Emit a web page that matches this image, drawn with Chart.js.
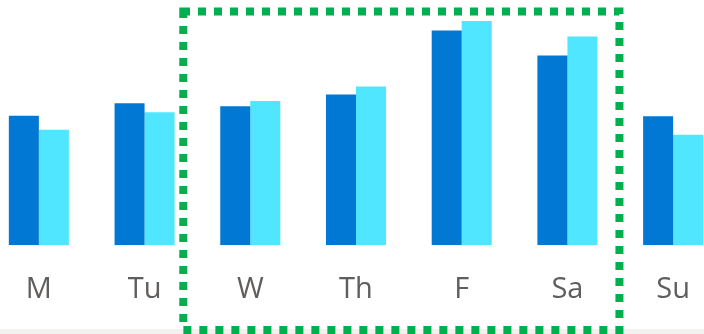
<!DOCTYPE html>
<html>
<head>
<meta charset="utf-8">
<script src="https://cdn.jsdelivr.net/npm/chart.js@4.4.0/dist/chart.umd.min.js"></script>
<style>
    html, body { margin: 0; padding: 0; background: #ffffff; overflow: hidden; }
    #wrap { position: relative; width: 704px; height: 334px; overflow: hidden; }
    #strip { position: absolute; left: 0; top: 329px; width: 704px; height: 5px; background: #f3f2f1; }
    #box { position: absolute; left: -14px; top: 0; width: 740px; height: 334px; }
</style>
</head>
<body>
<div id="wrap">
    <div id="strip"></div>
    <div id="box"><canvas id="weekChart"></canvas></div>
</div>
<script>
const days = ['M', 'Tu', 'W', 'Th', 'F', 'Sa', 'Su'];
const seriesA = [129.5, 142, 139, 151, 215, 190, 129];
const seriesB = [115.5, 133, 144.5, 159, 224.5, 209, 110.5];

const colors = {
    dark: '#0078d4',
    light: '#50e6ff',
    label: '#605e5c',
    highlight: '#00b050',
};

// dashed frame around the middle of the week (W .. Sa)
const highlightFrame = {
    id: 'highlightFrame',
    afterDraw(chart) {
        const x = chart.scales.x;
        const c = chart.ctx;
        const left = x.getPixelForValue(2) - 67;
        const right = x.getPixelForValue(5) + 52;
        const top = 11.5;
        const bottom = 330;
        c.save();
        c.strokeStyle = colors.highlight;
        c.lineWidth = 8;
        c.setLineDash([8, 8]);
        c.lineDashOffset = 1.3;
        c.beginPath();
        c.moveTo(left, top);
        c.lineTo(right, top);
        c.lineTo(right, bottom);
        c.lineTo(left, bottom);
        c.closePath();
        c.stroke();
        c.restore();
    }
};

new Chart(document.getElementById('weekChart'), {
    type: 'bar',
    data: {
        labels: days,
        datasets: [{
            data: seriesA,
            backgroundColor: colors.dark,
            borderWidth: 0,
        }, {
            data: seriesB,
            backgroundColor: colors.light,
            borderWidth: 0,
        }]
    },
    options: {
        responsive: true,
        maintainAspectRatio: false,
        animation: false,
        categoryPercentage: 0.568,
        barPercentage: 1,
        layout: { padding: { top: 0, left: 0, right: 0, bottom: 0 } },
        plugins: {
            legend: { display: false },
            tooltip: { enabled: false }
        },
        scales: {
            x: {
                grid: { display: false, drawTicks: false },
                border: { display: false },
                ticks: {
                    color: colors.label,
                    padding: 27,
                    font: { family: "'Open Sans', sans-serif", size: 29 }
                }
            },
            y: {
                display: false,
                min: 0,
                max: 245.5
            }
        }
    },
    plugins: [highlightFrame]
});
</script>
</body>
</html>
